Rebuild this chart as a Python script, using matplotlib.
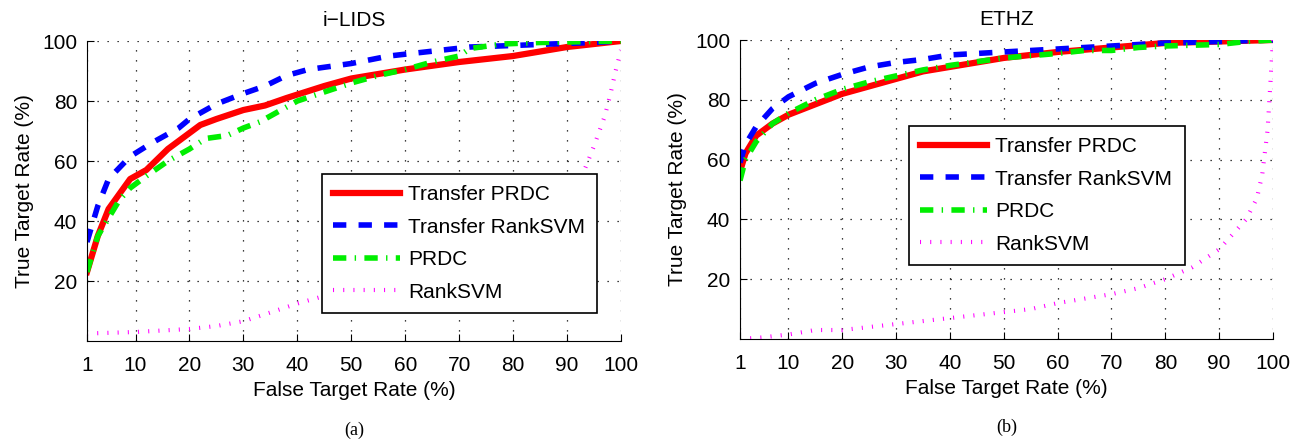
import matplotlib
matplotlib.use("Agg")
import matplotlib.pyplot as plt

plt.rcParams["font.family"] = ["Liberation Sans", "DejaVu Sans"]

# i-LIDS curves (false target rate %, true target rate %)
ilids_tprdc_x = [1, 3, 5, 9, 12, 16, 22, 25, 30, 34, 38, 45, 50, 55, 60, 70, 80, 90, 100]
ilids_tprdc_y = [23, 35, 44, 54, 57, 64, 72, 74, 77, 78.5, 81, 85, 87.5, 89, 90.5, 93, 95, 98, 100]

ilids_trank_x = [1, 3, 5, 9, 13, 18, 20, 25, 30, 34, 38, 42, 50, 57, 62, 67, 72, 80, 87, 95, 100]
ilids_trank_y = [33, 45, 54, 61.5, 66, 71, 74, 79, 82.5, 85, 88.5, 90.5, 92.5, 95, 96, 97, 98, 98.5, 99, 99.5, 100]

ilids_prdc_x = [1, 3, 5, 7, 9, 12, 16, 20, 23, 27, 30, 33, 37, 40, 45, 50, 55, 60, 65, 70, 72, 78, 85, 100]
ilids_prdc_y = [23, 35, 41, 47, 51, 55, 60, 64, 67.5, 68.5, 71, 73, 77, 80, 83, 86, 88.5, 90.5, 93, 95, 97.5, 99, 99.5, 100]

ilids_rank_x = [1, 10, 20, 25, 30, 35, 40, 45, 50, 60, 70, 80, 90, 93, 95, 97, 98, 99, 100]
ilids_rank_y = [2.5, 3, 4, 5, 6.6, 9.5, 12.5, 15, 17, 22, 28, 36, 48, 56, 65, 75, 82, 90, 97]

# ETHZ curves
ethz_tprdc_x = [1, 2, 4, 7, 10, 15, 20, 25, 30, 35, 40, 45, 50, 60, 70, 80, 90, 100]
ethz_tprdc_y = [56, 62, 68, 72, 75, 78.5, 82, 84.5, 87, 89.5, 91, 92.5, 94, 96, 97.5, 99, 99.5, 100]

ethz_trank_x = [1, 2, 4, 7, 10, 15, 20, 25, 30, 35, 40, 45, 50, 60, 70, 80, 90, 100]
ethz_trank_y = [59, 65, 71, 77, 81, 85.5, 88.5, 91, 92.5, 93.5, 95, 95.5, 96, 97, 98, 99, 99.5, 100]

ethz_prdc_x = [1, 2, 4, 7, 10, 15, 20, 25, 30, 35, 40, 50, 60, 65, 70, 75, 80, 90, 95, 100]
ethz_prdc_y = [53, 60, 66, 72, 75.5, 80, 83.5, 86, 88, 90, 91.5, 94, 95.5, 96.5, 96.5, 97.5, 98, 98.5, 99.5, 100]

ethz_rank_x = [1, 5, 10, 15, 20, 25, 30, 35, 40, 45, 50, 55, 60, 65, 70, 75, 80, 85, 90, 93, 95, 97, 98, 99, 100]
ethz_rank_y = [0, 0.5, 1.5, 3, 3, 4, 5, 6, 7, 8, 9, 10, 12, 13.5, 15, 17, 20, 24, 30, 36, 40, 47, 55, 70, 100]

labels = ["Transfer PRDC", "Transfer RankSVM", "PRDC", "RankSVM"]
x_ticks = [1, 10, 20, 30, 40, 50, 60, 70, 80, 90, 100]
y_ticks = [20, 40, 60, 80, 100]

FS = 15


def draw_panel(ax, curves, title, caption, legend_box):
    styles = [
        dict(color="#ff0000", lw=4.5, ls="-"),
        dict(color="#0000ff", lw=4.0, ls=(0, (2.4, 2.2))),
        dict(color="#00ee00", lw=4.0, ls=(0, (2.4, 1.5, 0.25, 1.5))),
        dict(color="#ff00ff", lw=3.0, ls=(0, (0.25, 2.2))),
    ]
    handles = []
    for (xs, ys), label, style in zip(curves, labels, styles):
        (h,) = ax.plot(xs, ys, label=label, **style)
        handles.append(h)

    ax.set_xlim(1, 100)
    ax.set_ylim(0, 100)
    ax.set_xticks(x_ticks)
    ax.set_yticks(y_ticks)
    ax.tick_params(direction="in", labelsize=FS, length=5, width=0.8)
    ax.tick_params(axis="x", pad=11)
    ax.tick_params(axis="y", pad=7)
    ax.spines["top"].set_visible(False)
    ax.spines["right"].set_visible(False)
    ax.grid(True, color="black", ls=(0, (1, 7)), lw=0.9)
    ax.set_title(title, fontsize=FS, pad=11)
    ax.set_xlabel("False Target Rate (%)", fontsize=FS, labelpad=4)
    ax.set_ylabel("True Target Rate (%)", fontsize=FS, labelpad=6)

    leg = ax.legend(handles=handles, loc="lower left", bbox_to_anchor=legend_box,
                    mode="expand", fontsize=FS, handlelength=3.2, handletextpad=0.4,
                    labelspacing=0.65, borderpad=0.55, borderaxespad=0,
                    fancybox=False, framealpha=1, edgecolor="black")
    leg.get_frame().set_linewidth(1.2)

    ax.text(0.5, -0.297, caption, transform=ax.transAxes, ha="center", va="center",
            fontsize=13, family="Liberation Serif")


fig = plt.figure(figsize=(12.95, 4.4), dpi=100)
ax1 = fig.add_axes([87 / 1295, 1 - 341 / 440, 534 / 1295, 300 / 440])
ax2 = fig.add_axes([740 / 1295, 1 - 339 / 440, 533 / 1295, 299 / 440])

draw_panel(ax1,
           [(ilids_tprdc_x, ilids_tprdc_y), (ilids_trank_x, ilids_trank_y),
            (ilids_prdc_x, ilids_prdc_y), (ilids_rank_x, ilids_rank_y)],
           "i\u2212LIDS", "(a)", (0.44, 0.093, 0.515, 0.467))
draw_panel(ax2,
           [(ethz_tprdc_x, ethz_tprdc_y), (ethz_trank_x, ethz_trank_y),
            (ethz_prdc_x, ethz_prdc_y), (ethz_rank_x, ethz_rank_y)],
           "ETHZ", "(b)", (0.317, 0.247, 0.518, 0.469))

fig.savefig("out.png", dpi=100)
